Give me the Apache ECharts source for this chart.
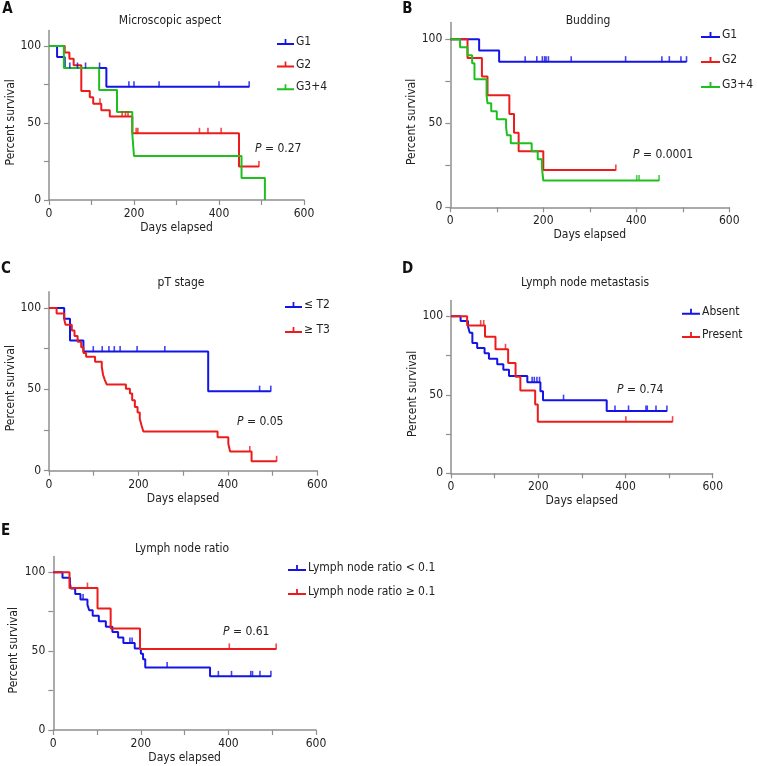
<!DOCTYPE html>
<html><head><meta charset="utf-8">
<script src="https://cdn.jsdelivr.net/npm/echarts@6/dist/echarts.min.js"></script>
<style>html,body{margin:0;padding:0;background:#fff}#c{width:757px;height:766px}</style>
</head><body><div id="c"></div>
<script>
// ---- axis ticks ----
const xTickValues = [0, 100, 200, 300, 400, 500, 600];
const xLabelValues = [0, 200, 400, 600];
const yTickValues = [0, 25, 50, 75, 100];
const yLabelValues = [0, 50, 100];

// ---- Panel A: Microscopic aspect ----
const aNames = ['G1', 'G2', 'G3+4'];
const aG1 = [[0,100],[19,92.9],[37,85.7],[135,73.5],[471,73.5]];
const aG1Censor = [49,67,86,119,188,200,259,400,471];
const aG2 = [[0,100],[37,95.8],[48,91.7],[58,87.5],[76,70.8],[96,66.7],[104,62.5],[123,58.3],[143,54.2],[196,43.3],[447,21.7],[494,21.7]];
const aG2Censor = [120,172,180,186,205,209,354,374,405,494];
const aG34 = [[0,100],[35,85.7],[118,71.4],[160,57.1],[196,42.9],[200,28.6],[453,14.3],[508,0]];
const aG34Censor = [];

// ---- Panel B: Budding ----
const bNames = ['G1', 'G2', 'G3+4'];
const bG1 = [[0,100],[62,93.3],[105,86.7],[508,86.7]];
const bG1Censor = [161,186,198,203,206,211,260,377,455,471,496,508];
const bG2 = [[0,100],[37,88.9],[68,77.8],[80,66.7],[127,55.6],[137,44.4],[147,33.3],[200,22.2],[356,22.2]];
const bG2Censor = [356];
const bG34 = [[0,100],[21,95.2],[37,90.5],[47,85.7],[52,76.2],[78,66.7],[80,61.9],[88,57.1],[100,52.4],[120,47.6],[122,42.9],[130,38.1],[175,33.3],[188,28.6],[197,23.8],[200,15.9],[449,15.9]];
const bG34Censor = [401,406,449];

// ---- Panel C: pT stage ----
const cNames = ['≤ T2', '≥ T3'];
const cT2 = [[0,100],[34,93.4],[47,80],[77,73.2],[356,48.9],[496,48.9]];
const cT2Censor = [99,119,134,146,159,197,259,471,496];
const cT3 = [[0,100],[17,96.6],[34,93.1],[37,89.7],[51,86.2],[57,82.8],[64,79.3],[72,75.9],[77,72.4],[83,70],[103,67],[118,63.8],[121,58.8],[125,55.7],[129,53],[172,50.4],[181,47.4],[186,43.3],[192,39.2],[198,35.8],[203,31.8],[207,27.8],[211,24.1],[377,20.6],[401,16.5],[405,11.8],[453,5.8],[509,5.8]];
const cT3Censor = [449,509];

// ---- Panel D: Lymph node metastasis ----
const dNames = ['Absent', 'Present'];
const dAbsent = [[0,100],[22,97],[39,93.5],[43,89.5],[49,83],[60,79.8],[77,76.5],[87,73],[106,69.5],[120,66],[133,62],[175,58],[205,52.3],[211,46.6],[357,39.7],[495,39.7]];
const dAbsentCensor = [186,191,197,203,258,376,407,447,450,470,495];
const dPresent = [[0,100],[37,94.1],[78,86.9],[102,79],[131,70.3],[148,61.5],[159,52.7],[193,43.9],[199,32.9],[508,32.9]];
const dPresentCensor = [68,75,125,401,508];

// ---- Panel E: Lymph node ratio ----
const eNames = ['Lymph node ratio < 0.1', 'Lymph node ratio ≥ 0.1'];
const eLow = [[0,100],[21,96.6],[38,93.1],[40,89.7],[50,86.2],[62,82.8],[78,79.3],[82,75.9],[90,72.4],[104,69],[120,65.5],[135,62.1],[148,58.6],[160,55.2],[186,51.7],[200,48.3],[205,44.8],[210,39.6],[358,34],[497,34]];
const eLowCensor = [68,175,180,260,377,407,451,455,472,497];
const eHigh = [[0,100],[37,90],[101,77.1],[131,64.3],[198,51.4],[509,51.4]];
const eHighCensor = [78,402,509];

// ---- texts ----
const panelTitles = ['Microscopic aspect', 'Budding', 'pT stage', 'Lymph node metastasis', 'Lymph node ratio'];
const panelLetters = ['A', 'B', 'C', 'D', 'E'];
const pValues = ['0.27', '0.0001', '0.05', '0.74', '0.61'];
const xName = 'Days elapsed';
const yName = 'Percent survival';

// ---- styles / layout ----
const FONT = "'DejaVu Sans Condensed', 'DejaVu Sans', sans-serif";
const BLUE = '#1414e6', RED = '#ec1c1c', GREEN = '#1fbf1f';
const AXIS = '#8f8f8f', TEXT = '#222';

const panels = [
  {names: aNames, curves: [aG1, aG2, aG34], censors: [aG1Censor, aG2Censor, aG34Censor], colors: [BLUE, RED, GREEN],
   grid: {left: 49, top: 30.6, width: 255, height: 169.4}, legend: {left: 277, top: 35, itemWidth: 17, gap: 8.6},
   title: [170, 21], letter: [7.5, 9.5], p: [255, 149], yGap: 26},
  {names: bNames, curves: [bG1, bG2, bG34], censors: [bG1Censor, bG2Censor, bG34Censor], colors: [BLUE, RED, GREEN],
   grid: {left: 450.3, top: 22.5, width: 279, height: 184.8}, legend: {left: 701, top: 28, itemWidth: 19, gap: 11},
   title: [588, 21], letter: [407.5, 9.5], p: [633, 155], yGap: 25},
  {names: cNames, curves: [cT2, cT3], censors: [cT2Censor, cT3Censor], colors: [BLUE, RED],
   grid: {left: 49, top: 291.7, width: 268.3, height: 179}, legend: {left: 285, top: 298, itemWidth: 17, gap: 11},
   title: [181, 283], letter: [6, 269], p: [237, 422], yGap: 26},
  {names: dNames, curves: [dAbsent, dPresent], censors: [dAbsentCensor, dPresentCensor], colors: [BLUE, RED],
   grid: {left: 451, top: 300.6, width: 261.7, height: 172.7}, legend: {left: 682, top: 304.7, itemWidth: 18, gap: 9.3},
   title: [585, 283], letter: [407.5, 269.5], p: [617, 390], yGap: 28},
  {names: eNames, curves: [eLow, eHigh], censors: [eLowCensor, eHighCensor], colors: [BLUE, RED],
   grid: {left: 53.3, top: 556.5, width: 262.7, height: 173.5}, legend: {left: 288, top: 561, itemWidth: 18, gap: 10},
   title: [182, 549], letter: [5.5, 531.5], p: [223, 632], yGap: 33}
];

function survAt(curve, t) {
  let v = curve[0][1];
  for (const [x, y] of curve) { if (x <= t) v = y; else break; }
  return v;
}

const LEGEND_ICON = 'path://M0,4h20v2h-20z M9,0h2v5h-2z';

const grids = [], xAxes = [], yAxes = [], legends = [], series = [], graphics = [];
panels.forEach((p, i) => {
  grids.push(Object.assign({containLabel: false}, p.grid));
  xAxes.push({
    type: 'value', gridIndex: i, min: 0, max: 600, interval: 100,
    name: xName, nameLocation: 'middle', nameGap: 22,
    nameTextStyle: {fontFamily: FONT, fontSize: 12, color: TEXT},
    axisLine: {show: true, lineStyle: {color: AXIS, width: 1.5}},
    axisTick: {show: true, length: 5, lineStyle: {color: AXIS, width: 1.2}, customValues: xTickValues},
    axisLabel: {customValues: xLabelValues, margin: 8, fontFamily: FONT, fontSize: 12, color: TEXT},
    splitLine: {show: false}
  });
  yAxes.push({
    type: 'value', gridIndex: i, min: 0, max: 110,
    name: yName, nameLocation: 'middle', nameGap: p.yGap, nameRotate: 90,
    nameTextStyle: {fontFamily: FONT, fontSize: 12, color: TEXT, padding: [0, 14, 0, 0]},
    axisLine: {show: true, lineStyle: {color: AXIS, width: 1.5}},
    axisTick: {show: true, length: 5, lineStyle: {color: AXIS, width: 1.2}, customValues: yTickValues},
    axisLabel: {customValues: yLabelValues, margin: 8, fontFamily: FONT, fontSize: 12, color: TEXT},
    splitLine: {show: false}
  });
  legends.push({
    data: p.names, orient: 'vertical', left: p.legend.left, top: p.legend.top,
    itemWidth: p.legend.itemWidth, itemHeight: 6, itemGap: p.legend.gap,
    icon: LEGEND_ICON, symbolKeepAspect: false, selectedMode: false, padding: 0,
    textStyle: {fontFamily: FONT, fontSize: 12, color: TEXT, lineHeight: 14, padding: [0, 0, 0, -3]}
  });
  p.names.forEach((name, k) => {
    const curve = p.curves[k], color = p.colors[k];
    series.push({
      type: 'line', name: name, xAxisIndex: i, yAxisIndex: i, data: curve, step: 'end',
      symbol: 'none', showSymbol: false, lineStyle: {width: 2, color: color}, itemStyle: {color: color},
      emphasis: {disabled: true}, animation: false, z: 2
    });
    series.push({
      type: 'scatter', name: name + ' (censored)', xAxisIndex: i, yAxisIndex: i,
      data: p.censors[k].map(t => [t, survAt(curve, t)]),
      symbol: 'rect', symbolSize: [1.6, 6], symbolOffset: [0, -2.5],
      itemStyle: {color: color}, silent: true, animation: false, z: 3
    });
  });
  graphics.push({type: 'text', x: p.title[0], y: p.title[1], silent: true,
    style: {text: panelTitles[i], font: '12px ' + FONT, fill: TEXT, align: 'center', verticalAlign: 'middle'}});
  graphics.push({type: 'text', x: p.letter[0], y: p.letter[1], silent: true,
    style: {text: panelLetters[i], font: 'bold 15px ' + FONT, fill: '#111', align: 'center', verticalAlign: 'middle'}});
  graphics.push({type: 'text', x: p.p[0], y: p.p[1], silent: true,
    style: {text: '{i|P} = ' + pValues[i], font: '12px ' + FONT, fill: TEXT, align: 'left', verticalAlign: 'middle',
      rich: {i: {fontStyle: 'italic', fontFamily: FONT, fontSize: 12, fill: TEXT}}}});
});

const chart = echarts.init(document.getElementById('c'), null, {renderer: 'canvas'});
chart.setOption({
  animation: false, backgroundColor: '#fff',
  grid: grids, xAxis: xAxes, yAxis: yAxes, legend: legends, series: series, graphic: graphics
});
</script></body></html>
